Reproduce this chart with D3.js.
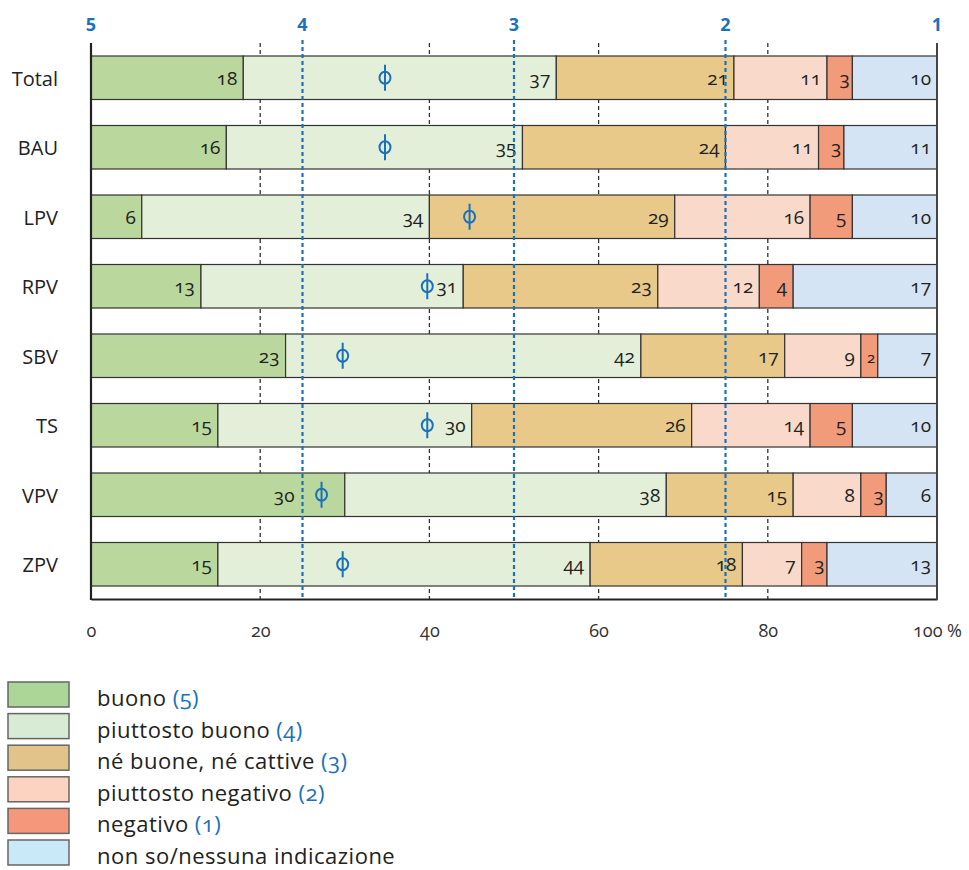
<!DOCTYPE html>
<html>
<head>
<meta charset="utf-8">
<script src="https://cdn.jsdelivr.net/npm/d3@7"></script>
<style>
  html, body { margin: 0; padding: 0; background: #fff; }
  svg { display: block; font-family: "Open Sans", "Noto Sans", sans-serif; font-feature-settings: "onum" 1; }
</style>
</head>
<body>
<svg id="chart" width="969" height="870"></svg>
<script>
// Survey answers per scenario, in percent
const categories = ["Total", "BAU", "LPV", "RPV", "SBV", "TS", "VPV", "ZPV"];
const buono              = [18, 16,  6, 13, 23, 15, 30, 15];
const piuttostoBuono     = [37, 35, 34, 31, 42, 30, 38, 44];
const neBuoneNeCattive   = [21, 24, 29, 23, 17, 26, 15, 18];
const piuttostoNegativo  = [11, 11, 16, 12,  9, 14,  8,  7];
const negativo           = [ 3,  3,  5,  4,  2,  5,  3,  3];
const nonSo              = [10, 11, 10, 17,  7, 10,  6, 13];
// Mean score (5 = buono … 1 = negativo)
const meanScores         = [3.61, 3.61, 3.21, 3.41, 3.81, 3.41, 3.91, 3.81];

const seriesKeys = ["buono", "piuttostoBuono", "neBuoneNeCattive", "piuttostoNegativo", "negativo", "nonSo"];
const seriesValues = [buono, piuttostoBuono, neBuoneNeCattive, piuttostoNegativo, negativo, nonSo];
const legendLabels = ["buono", "piuttosto buono", "né buone, né cattive", "piuttosto negativo", "negativo", "non so/nessuna indicazione"];
const legendCodes  = ["(5)", "(4)", "(3)", "(2)", "(1)", ""];
const barColors    = ["#bad89e", "#e4efd9", "#e8c98a", "#f9d9c9", "#f29b7b", "#d4e4f4"];
const legendColors = ["#acd598", "#d8ecd5", "#e2c48a", "#fcd2c0", "#f5977a", "#c9e9f9"];
const scoreTicks   = [5, 4, 3, 2, 1];
const percentTicks = [0, 20, 40, 60, 80, 100];

const blue = "#1a72ba";
const ink = "#222";

const rows = categories.map((c, i) => {
  const r = { category: c, mean: meanScores[i] };
  seriesKeys.forEach((k, j) => { r[k] = seriesValues[j][i]; });
  return r;
});

const svg = d3.select("#chart");

const x = d3.scaleLinear().domain([0, 100]).range([91, 937]);
const y = d3.scaleBand().domain(categories).range([43, 599]).paddingInner(0.374).paddingOuter(0.187);
const score = d3.scaleLinear().domain([5, 1]).range([91, 937]);
const bottom = 599;

// dashed grid lines (behind the bars)
svg.append("g").selectAll("line")
  .data(percentTicks.filter(t => t > 0 && t < 100))
  .join("line")
  .attr("x1", d => x(d)).attr("x2", d => x(d))
  .attr("y1", 43).attr("y2", bottom)
  .attr("stroke", "#333").attr("stroke-width", 1.3)
  .attr("stroke-dasharray", "4,3");

// stacked bars
const stacked = d3.stack().keys(seriesKeys)(rows);
const layers = svg.append("g").selectAll("g")
  .data(stacked)
  .join("g")
  .attr("fill", (d, i) => barColors[i]);

layers.selectAll("rect")
  .data(d => d)
  .join("rect")
  .attr("x", d => x(d[0]))
  .attr("y", d => y(d.data.category))
  .attr("width", d => x(d[1]) - x(d[0]))
  .attr("height", y.bandwidth())
  .attr("stroke", "#333")
  .attr("stroke-width", 1.2);

// value labels inside segments; a label that would sit on the mean marker moves to its left
function labelEnd(s, v) {
  const end = x(s[1]) - (v <= 3 ? 2.5 : 6);
  const mx = score(s.data.mean);
  return (end > mx - 7 && end - 20 < mx + 7) ? mx - 27 : end;
}
layers.selectAll("text")
  .data(d => d.map(s => ({ s, v: s[1] - s[0] })))
  .join("text")
  .attr("x", d => labelEnd(d.s, d.v))
  .attr("y", d => y(d.s.data.category) + y.bandwidth() / 2 + 7)
  .attr("text-anchor", "end")
  .attr("fill", ink)
  .attr("font-size", d => d.v <= 2 ? 15 : 19)
  .text(d => d.v);

// score reference lines
svg.append("g").selectAll("line")
  .data(scoreTicks.filter(t => t > 1 && t < 5))
  .join("line")
  .attr("x1", d => score(d)).attr("x2", d => score(d))
  .attr("y1", 40).attr("y2", bottom)
  .attr("stroke", blue).attr("stroke-width", 2.2)
  .attr("stroke-dasharray", "4,3");

// score axis labels on top
svg.append("g").selectAll("text")
  .data(scoreTicks)
  .join("text")
  .attr("x", d => score(d))
  .attr("y", 31)
  .attr("text-anchor", "middle")
  .attr("fill", blue)
  .attr("font-weight", "bold")
  .attr("font-size", 18)
  .attr("font-family", "'Open Sans', sans-serif")
  .style("font-feature-settings", "normal")
  .text(d => d);

// mean markers (Φ)
const marks = svg.append("g").selectAll("g")
  .data(rows)
  .join("g")
  .attr("transform", d => `translate(${score(d.mean)},${y(d.category) + y.bandwidth() / 2})`)
  .attr("stroke", blue).attr("stroke-width", 2).attr("fill", "none");
marks.append("ellipse").attr("rx", 5.5).attr("ry", 6);
marks.append("line").attr("y1", -13).attr("y2", 13);

// bottom percent axis
const xAxis = d3.axisBottom(x).tickValues(percentTicks).tickSize(0).tickPadding(0)
  .tickFormat(d => d === 100 ? "100 %" : d);
const gx = svg.append("g").attr("transform", `translate(0,${bottom})`).call(xAxis);
gx.select(".domain").attr("stroke", ink).attr("stroke-width", 2);
gx.selectAll("text")
  .attr("y", 38).attr("dy", 0)
  .attr("font-size", 18)
  .attr("font-family", "'Open Sans', sans-serif")
  .attr("fill", "#333");

// left and right frame lines
svg.append("line").attr("x1", x(0)).attr("x2", x(0)).attr("y1", 43).attr("y2", bottom + 1)
  .attr("stroke", ink).attr("stroke-width", 2.2);
svg.append("line").attr("x1", x(100)).attr("x2", x(100)).attr("y1", 43).attr("y2", bottom + 1)
  .attr("stroke", "#444").attr("stroke-width", 2);

// category labels
svg.append("g").selectAll("text")
  .data(categories)
  .join("text")
  .attr("x", 58)
  .attr("y", d => y(d) + y.bandwidth() / 2 + 8)
  .attr("text-anchor", "end")
  .attr("font-size", 20)
  .attr("fill", ink)
  .text(d => d);

// legend
const legend = svg.append("g").selectAll("g")
  .data(legendLabels.map((l, i) => ({ l, code: legendCodes[i], color: legendColors[i], i })))
  .join("g")
  .attr("transform", d => `translate(8,${682 + d.i * 31.6})`);
legend.append("rect")
  .attr("width", 61).attr("height", 25)
  .attr("fill", d => d.color)
  .attr("stroke", "#666").attr("stroke-width", 1.5);
const lt = legend.append("text")
  .attr("x", 89).attr("y", 24)
  .attr("font-size", 22)
  .attr("letter-spacing", 0.5)
  .attr("fill", ink);
lt.append("tspan").text(d => d.l);
lt.append("tspan").attr("fill", blue).text(d => d.code ? " " + d.code : "");
</script>
</body>
</html>
